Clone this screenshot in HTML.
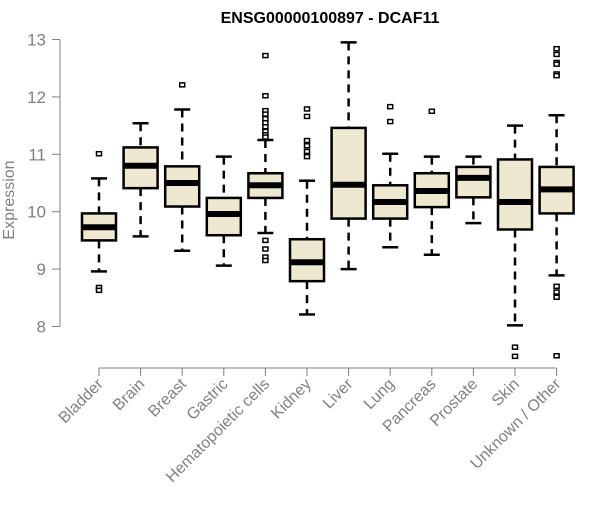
<!DOCTYPE html>
<html><head><meta charset="utf-8"><style>
body{margin:0;background:#fff;}
svg text{font-family:"Liberation Sans",sans-serif;}
</style></head><body>
<svg id="chart" width="600" height="500" xmlns="http://www.w3.org/2000/svg">
<text x="330" y="23" text-anchor="middle" font-weight="bold" font-size="16">ENSG00000100897 - DCAF11</text>
<text transform="translate(14,200) rotate(-90)" text-anchor="middle" font-size="16" fill="#808080">Expression</text>
<g id="plot"></g>
</svg>
<script>
const categories=["Bladder","Brain","Breast","Gastric","Hematopoietic cells","Kidney","Liver","Lung","Pancreas","Prostate","Skin","Unknown / Other"];
const lowerWhisker=[8.96,9.57,9.32,9.06,9.63,8.21,9.0,9.38,9.25,9.80,8.02,8.89];
const q1=[9.50,10.41,10.09,9.59,10.24,8.79,9.88,9.88,10.08,10.25,9.69,9.97];
const medians=[9.73,10.80,10.50,9.96,10.46,9.12,10.47,10.17,10.36,10.59,10.17,10.39];
const q3=[9.97,11.12,10.79,10.24,10.67,9.52,11.46,10.46,10.67,10.78,10.91,10.78];
const upperWhisker=[10.58,11.54,11.78,10.96,11.25,10.54,12.95,11.01,10.96,10.96,11.50,11.68];
const outliers=[[11.01,8.68,8.63],[],[12.21],[],[12.72,12.02,11.76,11.7,11.62,11.55,11.48,11.4,11.34,11.30,9.50,9.35,9.21,9.15],[11.79,11.66,11.24,11.15,11.05,10.96],[],[11.83,11.57],[11.75],[],[7.64,7.48],[12.84,12.74,12.6,12.57,12.40,12.37,8.70,8.60,8.51,7.49]];
const yTicks=[8,9,10,11,12,13];

const NS="http://www.w3.org/2000/svg";
const g=document.getElementById('plot');
const y=v=>326.5-(v-8)*57.4;
const x=i=>99+i*41.6;
function mk(tag,attrs,parent){const e=document.createElementNS(NS,tag);for(const k in attrs)e.setAttribute(k,attrs[k]);(parent||g).appendChild(e);return e;}
const ya=mk('g',{});


mk('line',{x1:60,x2:60,y1:y(13),y2:y(8),stroke:'#808080','stroke-width':1},ya);
yTicks.forEach(t=>{
  mk('line',{x1:52,x2:60,y1:y(t),y2:y(t),stroke:'#808080'},ya);
  const tx=mk('text',{x:46,y:y(t)+6,'text-anchor':'end','font-size':17,fill:'#808080'},ya);
  tx.textContent=t;
  
  
});
const xa=mk('g',{});


mk('line',{x1:x(0),x2:x(categories.length-1),y1:368,y2:368,stroke:'#808080'},xa);
categories.forEach((c,i)=>{
  mk('line',{x1:x(i),x2:x(i),y1:368,y2:376,stroke:'#808080'},xa);
  const tx=mk('text',{transform:`translate(${x(i)+5},${385}) rotate(-45)`,'text-anchor':'end','font-size':16,fill:'#808080'},xa);
  tx.textContent=c;
  
  
});
categories.forEach((c,i)=>{
  const bg=mk('g',{});
  
  
  const cx=x(i),w=17;
  mk('line',{x1:cx,x2:cx,y1:y(upperWhisker[i]),y2:y(q3[i]),stroke:'#000','stroke-width':2.5,'stroke-dasharray':'8,6'},bg);
  mk('line',{x1:cx,x2:cx,y1:y(q1[i]),y2:y(lowerWhisker[i]),stroke:'#000','stroke-width':2.5,'stroke-dasharray':'8,6'},bg);
  mk('line',{x1:cx-8,x2:cx+8,y1:y(upperWhisker[i]),y2:y(upperWhisker[i]),stroke:'#000','stroke-width':2.5},bg);
  mk('line',{x1:cx-8,x2:cx+8,y1:y(lowerWhisker[i]),y2:y(lowerWhisker[i]),stroke:'#000','stroke-width':2.5},bg);
  mk('rect',{x:cx-w,y:y(q3[i]),width:2*w,height:y(q1[i])-y(q3[i]),fill:'#eee8d0',stroke:'#000','stroke-width':2.5},bg);
  mk('line',{x1:cx-w,x2:cx+w,y1:y(medians[i]),y2:y(medians[i]),stroke:'#000','stroke-width':6},bg);
  outliers[i].forEach(o=>{
    const r=mk('rect',{x:cx-2.5,y:y(o)-2,width:5,height:4,fill:'#fff',stroke:'#000','stroke-width':1.5},bg);
    
    
  });
});
</script>
</body></html>
